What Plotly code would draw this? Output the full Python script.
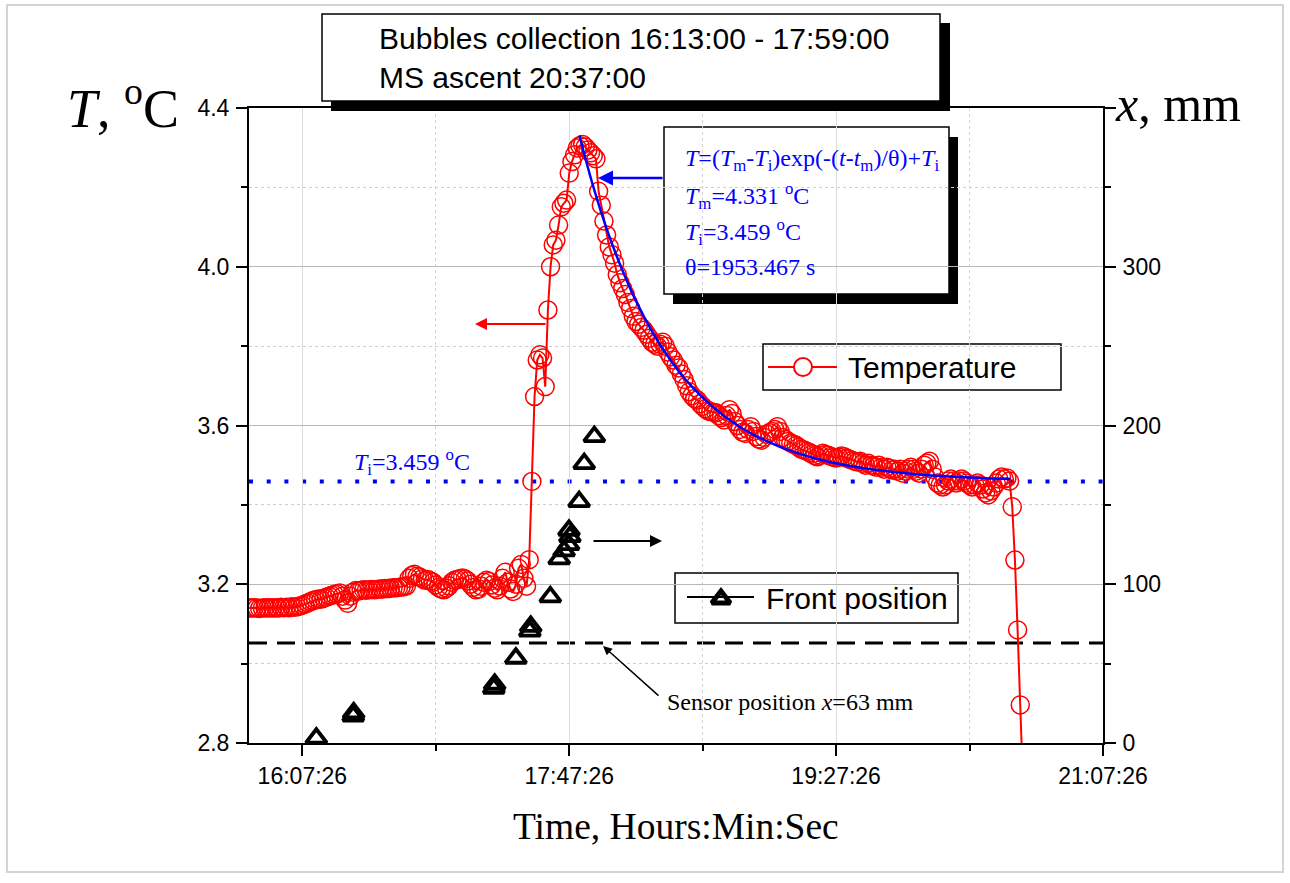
import plotly.graph_objects as go

DAY = "2000-01-01 "

# ---------------- data ----------------
temp_clock = [
    "15:47", "15:48", "15:49", "15:50", "15:51", "15:52", "15:53", "15:54", "15:55", "15:56",
    "15:57", "15:58", "15:59", "16:00", "16:01", "16:02", "16:03", "16:04", "16:05", "16:06",
    "16:07", "16:08", "16:09", "16:10", "16:11", "16:12", "16:13", "16:14", "16:15", "16:16",
    "16:17", "16:18", "16:19", "16:20", "16:21", "16:22", "16:23", "16:24", "16:25", "16:26",
    "16:27", "16:28", "16:29", "16:30", "16:31", "16:32", "16:33", "16:34", "16:35", "16:36",
    "16:37", "16:38", "16:39", "16:40", "16:41", "16:42", "16:43", "16:44", "16:45", "16:46",
    "16:47", "16:48", "16:49", "16:50", "16:51", "16:52", "16:53", "16:54", "16:55", "16:56",
    "16:57", "16:58", "16:59", "17:00", "17:01", "17:02", "17:03", "17:04", "17:05", "17:06",
    "17:07", "17:08", "17:09", "17:10", "17:11", "17:12", "17:13", "17:14", "17:15", "17:16",
    "17:17", "17:18", "17:19", "17:20", "17:21", "17:22", "17:23", "17:24", "17:25", "17:26",
    "17:27", "17:28", "17:29", "17:30", "17:31", "17:32", "17:33", "17:34", "17:35", "17:36",
    "17:37", "17:38", "17:39", "17:40", "17:41", "17:42", "17:43", "17:44", "17:45", "17:46",
    "17:47", "17:48", "17:49", "17:50", "17:51", "17:52", "17:53", "17:54", "17:55", "17:56",
    "17:57", "17:58", "17:59", "18:00", "18:01", "18:02", "18:03", "18:04", "18:05", "18:06",
    "18:07", "18:08", "18:09", "18:10", "18:11", "18:12", "18:13", "18:14", "18:15", "18:16",
    "18:17", "18:18", "18:19", "18:20", "18:21", "18:22", "18:23", "18:24", "18:25", "18:26",
    "18:27", "18:28", "18:29", "18:30", "18:31", "18:32", "18:33", "18:34", "18:35", "18:36",
    "18:37", "18:38", "18:39", "18:40", "18:41", "18:42", "18:43", "18:44", "18:45", "18:46",
    "18:47", "18:48", "18:49", "18:50", "18:51", "18:52", "18:53", "18:54", "18:55", "18:56",
    "18:57", "18:58", "18:59", "19:00", "19:01", "19:02", "19:03", "19:04", "19:05", "19:06",
    "19:07", "19:08", "19:09", "19:10", "19:11", "19:12", "19:13", "19:14", "19:15", "19:16",
    "19:17", "19:18", "19:19", "19:20", "19:21", "19:22", "19:23", "19:24", "19:25", "19:26",
    "19:27", "19:28", "19:29", "19:30", "19:31", "19:32", "19:33", "19:34", "19:35", "19:36",
    "19:37", "19:38", "19:39", "19:40", "19:41", "19:42", "19:43", "19:44", "19:45", "19:46",
    "19:47", "19:48", "19:49", "19:50", "19:51", "19:52", "19:53", "19:54", "19:55", "19:56",
    "19:57", "19:58", "19:59", "20:00", "20:01", "20:02", "20:03", "20:04", "20:05", "20:06",
    "20:07", "20:08", "20:09", "20:10", "20:11", "20:12", "20:13", "20:14", "20:15", "20:16",
    "20:17", "20:18", "20:19", "20:20", "20:21", "20:22", "20:23", "20:24", "20:25", "20:26",
    "20:27", "20:28", "20:29", "20:30", "20:31", "20:32", "20:33", "20:34", "20:35", "20:36",
    "20:37",
]

temp_values = [
    3.141, 3.140, 3.141, 3.140, 3.139, 3.140, 3.141, 3.140, 3.141, 3.140,
    3.141, 3.140, 3.142, 3.141, 3.142, 3.141, 3.143, 3.142, 3.143, 3.145,
    3.147, 3.150, 3.153, 3.156, 3.159, 3.161, 3.163, 3.162, 3.165, 3.167,
    3.170, 3.172, 3.174, 3.176, 3.178, 3.170, 3.160, 3.152, 3.170, 3.180,
    3.184, 3.183, 3.185, 3.186, 3.185, 3.186, 3.187, 3.186, 3.187, 3.188,
    3.188, 3.189, 3.189, 3.190, 3.191, 3.191, 3.192, 3.193, 3.194, 3.196,
    3.215, 3.222, 3.225, 3.220, 3.218, 3.214, 3.210, 3.212, 3.208, 3.205,
    3.198, 3.192, 3.188, 3.186, 3.190, 3.196, 3.205, 3.210, 3.212, 3.214,
    3.216, 3.213, 3.208, 3.200, 3.192, 3.186, 3.188, 3.195, 3.205, 3.210,
    3.207, 3.198, 3.190, 3.186, 3.195, 3.215, 3.230, 3.205, 3.188, 3.182,
    3.200, 3.240, 3.250, 3.215, 3.195, 3.262, 3.459, 3.673, 3.765, 3.778,
    3.770, 3.698, 3.891, 4.000, 4.055, 4.067, 4.105, 4.151, 4.160, 4.168,
    4.236, 4.265, 4.282, 4.299, 4.305, 4.308, 4.302, 4.294, 4.287, 4.280,
    4.272, 4.190, 4.155, 4.115, 4.080, 4.050, 4.030, 4.009, 3.980, 3.960,
    3.945, 3.930, 3.910, 3.895, 3.875, 3.862, 3.855, 3.847, 3.840, 3.830,
    3.820, 3.810, 3.805, 3.800, 3.805, 3.810, 3.800, 3.785, 3.773, 3.765,
    3.752, 3.745, 3.730, 3.716, 3.700, 3.685, 3.675, 3.668, 3.664, 3.655,
    3.648, 3.642, 3.637, 3.635, 3.633, 3.632, 3.625, 3.620, 3.614, 3.625,
    3.640, 3.630, 3.610, 3.600, 3.590, 3.583, 3.580, 3.590, 3.597, 3.585,
    3.572, 3.566, 3.563, 3.570, 3.578, 3.582, 3.585, 3.590, 3.597, 3.585,
    3.570, 3.565, 3.560, 3.556, 3.553, 3.550, 3.545, 3.540, 3.538, 3.535,
    3.532, 3.528, 3.524, 3.521, 3.525, 3.530, 3.527, 3.525, 3.522, 3.520,
    3.518, 3.520, 3.523, 3.521, 3.518, 3.515, 3.512, 3.510, 3.508, 3.510,
    3.505, 3.500, 3.505, 3.500, 3.498, 3.495, 3.500, 3.495, 3.490, 3.495,
    3.492, 3.488, 3.490, 3.485, 3.490, 3.480, 3.485, 3.490, 3.495, 3.490,
    3.485, 3.480, 3.490, 3.500, 3.505, 3.510, 3.490, 3.470, 3.455, 3.450,
    3.445, 3.450, 3.460, 3.465, 3.460, 3.455, 3.460, 3.465, 3.460, 3.455,
    3.450, 3.445, 3.450, 3.455, 3.450, 3.440, 3.430, 3.425, 3.435, 3.445,
    3.455, 3.465, 3.470, 3.465, 3.468, 3.460, 3.395, 3.261, 3.085, 2.896,
    2.700,
]

fit_clock = [
    "17:51:14", "17:53:14", "17:55:14", "17:57:14", "17:59:14", "18:01:14",
    "18:04:14", "18:07:14", "18:11:14", "18:16:14", "18:21:14", "18:26:14",
    "18:31:14", "18:41:14", "18:51:14", "19:01:14", "19:11:14", "19:26:14",
    "19:41:14", "19:56:14", "20:11:14", "20:32:44",
]
fit_values = [
    4.331, 4.279, 4.230, 4.184, 4.141, 4.100,
    4.044, 3.993, 3.931, 3.864, 3.806, 3.757,
    3.714, 3.647, 3.597, 3.561, 3.534, 3.506,
    3.489, 3.478, 3.471, 3.465,
]

front_clock = [
    "16:12:40", "16:26:30", "16:26:40", "17:19:10", "17:19:30", "17:27:26",
    "17:32:40", "17:33:00", "17:40:20", "17:43:40", "17:45:30", "17:47:10",
    "17:47:40", "17:47:20", "17:51:08", "17:53:02", "17:56:50",
]
front_mm = [
    3, 17, 19, 34.5, 37, 53.4,
    70.5, 73.5, 92, 116, 121, 125,
    130, 134, 152, 176, 193,
]

T_I = 3.459
SENSOR_MM = 63

x_major = ["16:07:26", "17:47:26", "19:27:26", "21:07:26"]
x_minor = ["16:57:26", "18:37:26", "20:17:26"]
y_major = [2.8, 3.2, 3.6, 4.0, 4.4]
y_minor = [3.0, 3.4, 3.8, 4.2]
y2_major = [0, 100, 200, 300, 400]
y2_labels = ["0", "100", "200", "300", ""]
y2_minor = [50, 150, 250, 350]

# ---------------- geometry (window pixels) ----------------
W, H = 1290, 883
L, R, T, B = 249, 1103, 108, 743   # plot area


def px(x):
    return (x - L) / (R - L)


def py(y):
    return (B - y) / (B - T)


RED = "#ff0000"
BLUE = "#0000ff"
SANS = "Liberation Sans"
SERIF = "Liberation Serif"

fig = go.Figure()

fig.add_trace(go.Scatter(
    x=[DAY + c + ":26" for c in temp_clock], y=temp_values,
    mode="lines+markers",
    line=dict(color=RED, width=2),
    marker=dict(symbol="circle-open", size=18, color=RED, line=dict(width=1.5)),
    showlegend=False, hoverinfo="skip",
))

fig.add_trace(go.Scatter(
    x=[DAY + c for c in fit_clock], y=fit_values,
    mode="lines", line=dict(color=BLUE, width=2.5, shape="spline"),
    showlegend=False, hoverinfo="skip",
))

fig.add_trace(go.Scatter(
    x=[DAY + c for c in front_clock], y=front_mm, yaxis="y2",
    mode="markers",
    marker=dict(symbol="triangle-up-open", size=18, color="black", line=dict(width=3.8)),
    showlegend=False, hoverinfo="skip", cliponaxis=True,
))

# legend symbols on a pixel-coordinate overlay
fig.add_trace(go.Scatter(x=[768, 837], y=[367, 367], xaxis="x3", yaxis="y3", mode="lines",
                         line=dict(color=RED, width=2), showlegend=False, hoverinfo="skip"))
fig.add_trace(go.Scatter(x=[803], y=[367], xaxis="x3", yaxis="y3", mode="markers",
                         marker=dict(symbol="circle", size=18, color="white",
                                     line=dict(color=RED, width=2)),
                         showlegend=False, hoverinfo="skip"))
fig.add_trace(go.Scatter(x=[687, 754], y=[597, 597], xaxis="x3", yaxis="y3", mode="lines",
                         line=dict(color="black", width=2), showlegend=False, hoverinfo="skip"))
fig.add_trace(go.Scatter(x=[721], y=[599], xaxis="x3", yaxis="y3", mode="markers",
                         marker=dict(symbol="triangle-up-open", size=16, color="black",
                                     line=dict(width=5)),
                         showlegend=False, hoverinfo="skip"))

tickfont = dict(family=SANS, size=23, color="black")

fig.update_layout(
    width=W, height=H,
    margin=dict(l=L, r=W - R, t=T, b=H - B, pad=0),
    paper_bgcolor="white", plot_bgcolor="white",
    showlegend=False,
    xaxis=dict(
        type="date", range=[DAY + "15:47:26", DAY + "21:07:26"],
        tickmode="array", tickvals=[DAY + v for v in x_major], ticktext=x_major,
        ticks="outside", ticklen=11, tickwidth=2, tickcolor="black",
        showline=True, linewidth=2, linecolor="black", mirror=True,
        showgrid=True, gridcolor="#dcdcdc", gridwidth=1, zeroline=False,
        tickfont=tickfont,
        minor=dict(tickmode="array", tickvals=[DAY + v for v in x_minor],
                   ticks="outside", ticklen=6, tickwidth=2, tickcolor="black",
                   showgrid=True, gridcolor="#d4d4d4", griddash="dot", gridwidth=1),
    ),
    yaxis=dict(
        range=[2.8, 4.4], tickmode="array", tickvals=y_major,
        ticktext=[f"{v:.1f}" for v in y_major],
        ticks="outside", ticklen=11, tickwidth=2, tickcolor="black",
        showline=True, linewidth=2, linecolor="black",
        showgrid=True, gridcolor="#b8b8b8", gridwidth=1, zeroline=False,
        tickfont=tickfont, ticklabelstandoff=2,
        minor=dict(tickmode="array", tickvals=y_minor,
                   ticks="outside", ticklen=6, tickwidth=2, tickcolor="black",
                   showgrid=True, gridcolor="#cfcfcf", griddash="dot", gridwidth=1),
    ),
    yaxis2=dict(
        overlaying="y", side="right", range=[0, 400],
        tickmode="array", tickvals=y2_major, ticktext=y2_labels,
        ticks="outside", ticklen=11, tickwidth=2, tickcolor="black",
        showline=True, linewidth=2, linecolor="black",
        showgrid=False, zeroline=False, tickfont=tickfont, ticklabelstandoff=2,
        minor=dict(tickmode="array", tickvals=y2_minor,
                   ticks="outside", ticklen=6, tickwidth=2, tickcolor="black"),
    ),
    xaxis3=dict(overlaying="x", range=[L, R], visible=False, anchor="y3"),
    yaxis3=dict(overlaying="y", range=[B, T], visible=False, anchor="x3"),
)

shapes = []
# outer frame
shapes.append(dict(type="rect", xref="paper", yref="paper", x0=px(7), x1=px(1283), y0=py(5), y1=py(872),
                   line=dict(color="#d4d4d4", width=2), layer="below"))
# reference lines
shapes.append(dict(type="line", xref="paper", yref="y", x0=0, x1=1, y0=T_I, y1=T_I,
                   line=dict(color=BLUE, width=4, dash="4px,13.7px"), layer="between"))
shapes.append(dict(type="line", xref="paper", yref="y2", x0=0, x1=1, y0=SENSOR_MM, y1=SENSOR_MM,
                   line=dict(color="black", width=3, dash="18px,10px"), layer="between"))
# legend boxes
shapes.append(dict(type="rect", xref="paper", yref="paper", x0=px(763), x1=px(1061), y0=py(344), y1=py(390),
                   line=dict(color="black", width=1.5), fillcolor="white", layer="between"))
shapes.append(dict(type="rect", xref="paper", yref="paper", x0=px(675), x1=px(958), y0=py(573), y1=py(623),
                   line=dict(color="black", width=1.5), fillcolor="white", layer="between"))
# equation box with shadow
shapes.append(dict(type="rect", xref="paper", yref="paper", x0=px(673), x1=px(958), y0=py(137), y1=py(304),
                   line=dict(width=0), fillcolor="black", layer="between"))
shapes.append(dict(type="rect", xref="paper", yref="paper", x0=px(664), x1=px(949), y0=py(127), y1=py(294),
                   line=dict(color="black", width=1.5), fillcolor="white", layer="between"))
# top info box with shadow
shapes.append(dict(type="rect", xref="paper", yref="paper", x0=px(331), x1=px(950), y0=py(23), y1=py(111),
                   line=dict(width=0), fillcolor="black", layer="above"))
shapes.append(dict(type="rect", xref="paper", yref="paper", x0=px(322), x1=px(940), y0=py(14), y1=py(101),
                   line=dict(color="black", width=1.5), fillcolor="white", layer="above"))
fig.update_layout(shapes=shapes)

ann = []


def text(x, y, s, size, family=SERIF, color="black", xanchor="left", yanchor="middle", align="left"):
    ann.append(dict(xref="paper", yref="paper", x=px(x), y=py(y), text=s, showarrow=False,
                    xanchor=xanchor, yanchor=yanchor, align=align,
                    font=dict(family=family, size=size, color=color)))


def arrow(hx, hy, tx, ty, color, width):
    ann.append(dict(xref="paper", yref="paper", x=px(hx), y=py(hy), text="",
                    showarrow=True, axref="pixel", ayref="pixel", ax=tx - hx, ay=ty - hy,
                    arrowcolor=color, arrowwidth=width, arrowhead=2, arrowsize=1.2, standoff=0))


text(181, 104, "<i>T</i>, <sup>o</sup>C", 54, xanchor="right")
text(1113, 104, "<i>x</i>, mm", 50)
text(676, 826, "Time, Hours:Min:Sec", 37.5, xanchor="center")
text(377, 58, "Bubbles collection 16:13:00 - 17:59:00<br>MS ascent 20:37:00", 30, family=SANS)

text(683, 160, "<i>T</i>=(<i>T</i><sub>m</sub>-<i>T</i><sub>i</sub>)exp(-(<i>t</i>-<i>t</i><sub>m</sub>)/θ)+<i>T</i><sub>i</sub>",
     24, color=BLUE)
text(683, 196, "<i>T</i><sub>m</sub>=4.331 <sup>o</sup>C", 24, color=BLUE)
text(683, 232, "<i>T</i><sub>i</sub>=3.459 <sup>o</sup>C", 24, color=BLUE)
text(683, 267, "θ=1953.467 s", 24, color=BLUE)

text(352, 462, "<i>T</i><sub>i</sub>=3.459 <sup>o</sup>C", 24, color=BLUE)
text(665, 702, "Sensor position <i>x</i>=63 mm", 24)

text(846, 367, "Temperature", 30, family=SANS)
text(764, 598, "Front position", 30, family=SANS)

arrow(475, 324, 547, 324, RED, 2)
arrow(662, 541, 592, 541, "black", 2)
arrow(598, 178, 664, 178, BLUE, 2.5)
arrow(603, 646, 660, 697, "black", 1.5)

fig.update_layout(annotations=ann)

fig.write_html("out.html", config={"displayModeBar": False},
               post_script="document.body.style.margin='0';document.body.style.overflow='hidden';")
